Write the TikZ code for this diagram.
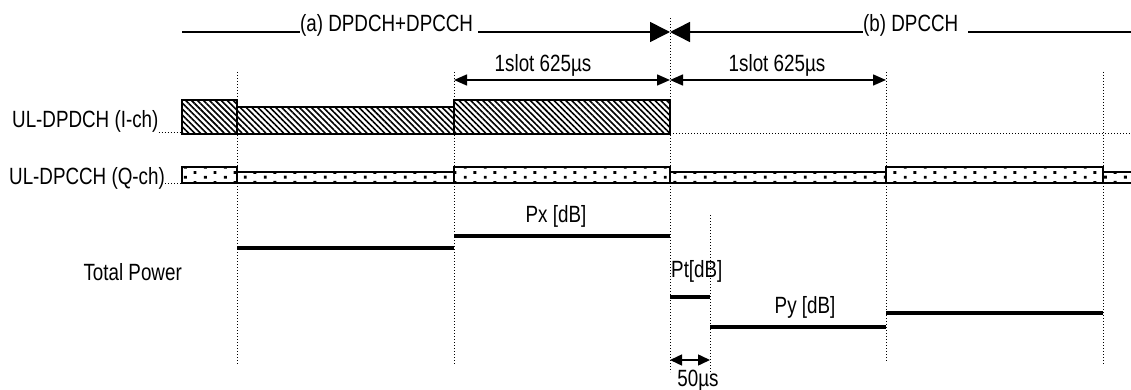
\documentclass[tikz,border=0pt]{standalone}
\usepackage{fontspec}
\setmainfont[FakeStretch=0.8]{Liberation Sans}
\usetikzlibrary{arrows.meta,patterns,patterns.meta}

\tikzdeclarepattern{
  name=sparsedots,
  bounding box={(0pt,0pt) and (20pt,10pt)},
  tile size={(20pt,10pt)},
  code={
    \fill[black] (4pt,1.5pt) rectangle (7pt,4.5pt);
    \fill[black] (14pt,6.5pt) rectangle (17pt,9.5pt);
  }
}

\begin{document}
\begin{tikzpicture}[x=1pt,y=-1pt,
        lbl/.style={font=\fontsize{23.5}{25}\selectfont, inner sep=0pt},
        bigarr/.style={-{Triangle[length=20pt,width=20pt]}, line width=1.5pt},
        slotarr/.style={{Triangle[length=13pt,width=11pt]}-{Triangle[length=13pt,width=11pt]}, line width=1.5pt},
        guide/.style={dotted, line width=1pt},
        dchbox/.style={draw, line width=2pt, pattern={Lines[angle=-45,distance=4.2pt,line width=1.6pt]}},
        cchbox/.style={draw, line width=2pt, pattern=sparsedots},
        pwr/.style={line width=4pt}
      ]
        \useasboundingbox (0,0) rectangle (1131,390);
        % slot boundaries
        \coordinate (t0) at (182,0);
        \coordinate (t1) at (237,0);
        \coordinate (t2) at (454,0);
        \coordinate (t3) at (670,0);
        \coordinate (t4) at (710,0);
        \coordinate (t5) at (886,0);
        \coordinate (t6) at (1103,0);
        \coordinate (tend) at (1131,0);

        % dotted guides
        \draw[guide] (t1 |- 0,72) -- (t1 |- 0,365);
        \draw[guide] (t2 |- 0,72) -- (t2 |- 0,365);
        \draw[guide] (t3 |- 0,18) -- (t3 |- 0,372);
        \draw[guide] (t4 |- 0,215) -- (t4 |- 0,372);
        \draw[guide] (t5 |- 0,72) -- (t5 |- 0,362);
        \draw[guide] (t6 |- 0,72) -- (t6 |- 0,365);

        % phases
        \node[lbl, anchor=base west] (pha) at (300,32) {(a) DPDCH+DPCCH};
        \node[lbl, anchor=base west] (phb) at (863,32) {(b) DPCCH};
        \draw[line width=1.5pt] (t0 |- 0,32) -- (pha.base west);
        \draw[bigarr] ([xshift=5pt]pha.base east) -- (t3 |- 0,32);
        \draw[bigarr] (phb.base west) -- (t3 |- 0,32);
        \draw[line width=1.5pt] ([xshift=10pt]phb.base east) -- (tend |- 0,32);

        % slot lengths
        \node[lbl, anchor=base] (sla) at (543,72) {1slot 625µs};
        \node[lbl, anchor=base] (slb) at (777,72) {1slot 625µs};
        \draw[slotarr] (t2 |- 0,80) -- (t3 |- 0,80);
        \draw[slotarr] (t3 |- 0,80) -- (t5 |- 0,80);

        % channels
        \node[lbl, anchor=base west] (dpdch) at (12,128) {UL-DPDCH (I-ch)};
        \node[lbl, anchor=base west] (dpcch) at (9,184) {UL-DPCCH (Q-ch)};
        \draw[guide] (dpdch.base east |- 0,133) -- (t0 |- 0,133);
        \draw[guide] (dpcch.base east |- 0,183) -- (t0 |- 0,183);
        \draw[guide] (t3 |- 0,134) -- (tend |- 0,134);

        \draw[dchbox] (182,100) rectangle (237,134);
        \draw[dchbox] (237,107) rectangle (454,134);
        \draw[dchbox] (454,100) rectangle (670,134);

        \draw[cchbox] (182,167) rectangle (237,183);
        \draw[cchbox] (237,172) rectangle (454,183);
        \draw[cchbox] (454,167) rectangle (670,183);
        \draw[cchbox] (670,172) rectangle (886,183);
        \draw[cchbox] (886,167) rectangle (1103,183);
        \draw[cchbox] (1103,172) rectangle (1133,183);

        % total power
        \node[lbl, anchor=base east] (tp) at (182,280) {Total Power};
        \draw[pwr] (t1 |- 0,248) -- (t2 |- 0,248);
        \draw[pwr] (t2 |- 0,236) -- (t3 |- 0,236);
        \draw[pwr] (t3 |- 0,297) -- (t4 |- 0,297);
        \draw[pwr] (t4 |- 0,327) -- (t5 |- 0,327);
        \draw[pwr] (t5 |- 0,313) -- (t6 |- 0,313);
        \node[lbl, anchor=base] (px) at (556,222) {Px [dB]};
        \node[lbl, anchor=base west] (pt) at (671,277) {Pt[dB]};
        \node[lbl, anchor=base] (py) at (805,313) {Py [dB]};

        \draw[{Triangle[length=12pt,width=11pt]}-{Triangle[length=12pt,width=11pt]}, line width=1.5pt] (t3 |- 0,360) -- (t4 |- 0,360);
        \node[lbl, anchor=base] (gap) at (698,386) {50µs};
      \end{tikzpicture}
\end{document}
